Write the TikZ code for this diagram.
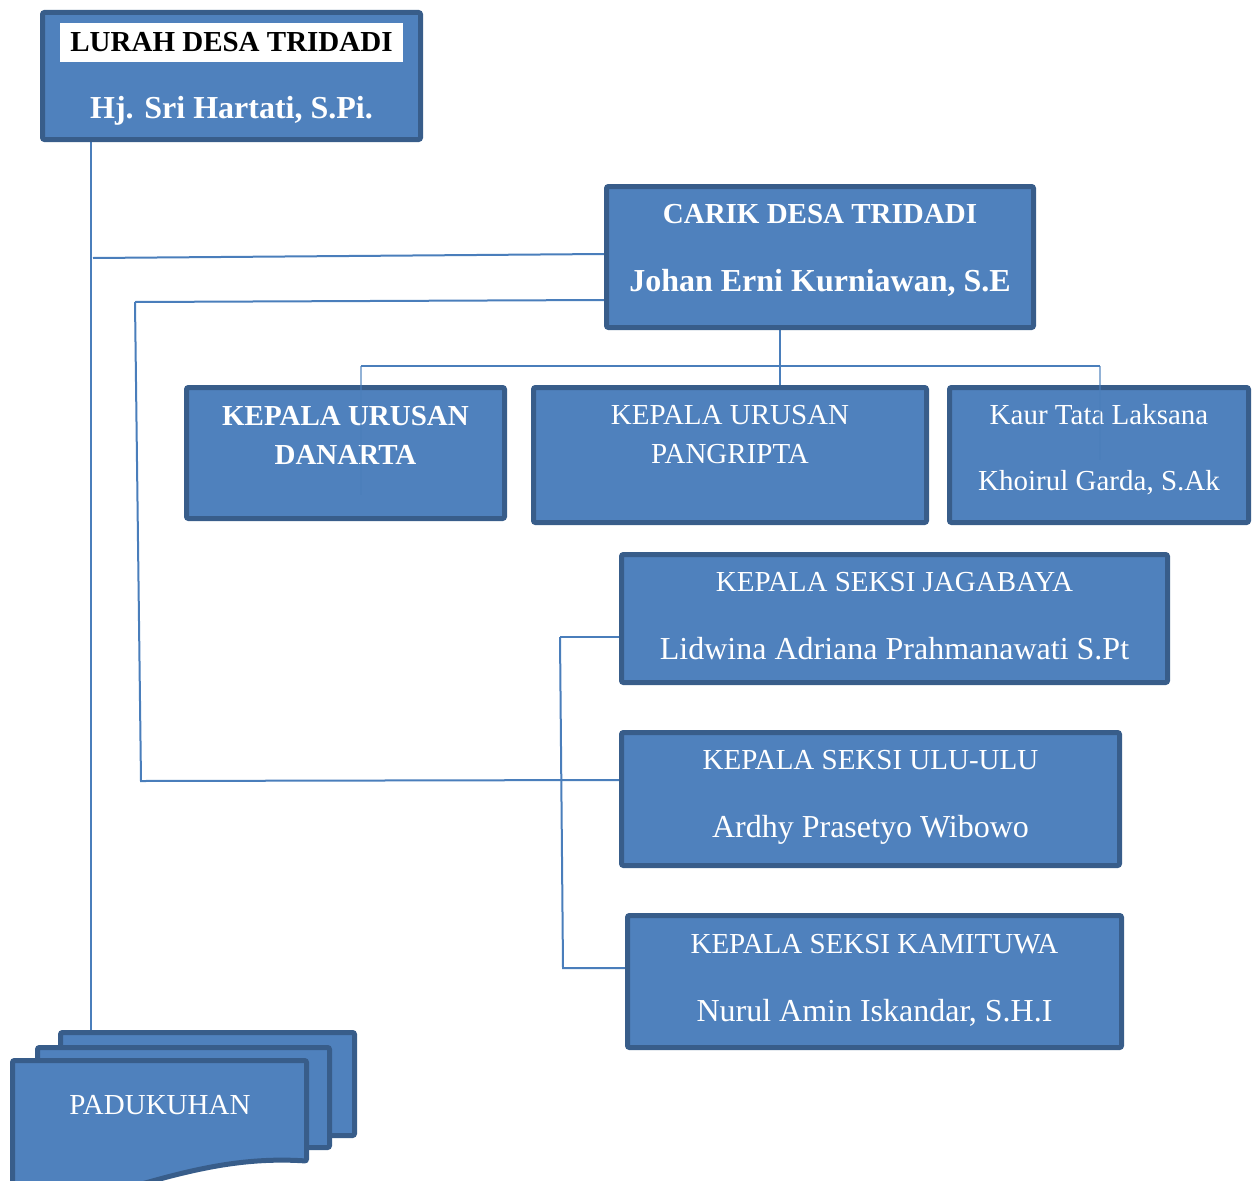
\documentclass[tikz,border=0pt]{standalone}
\usepackage{fontspec}
\setmainfont{Liberation Serif}
\usepackage{xcolor}
\definecolor{boxblue}{RGB}{79,129,189}
\definecolor{edgeblue}{RGB}{56,93,138}
\definecolor{linkblue}{RGB}{74,126,187}

\begin{document}
\begin{tikzpicture}[x=1pt, y=-1pt,
        unit/.style={rectangle, draw=edgeblue, fill=boxblue, line width=5pt, rounded corners=2pt, inner sep=0pt},
        caption/.style={inner sep=0pt, text height=19pt, text depth=0pt, text=white, font=\fontsize{29}{35}\selectfont},
        boldcap/.style={caption, font=\fontsize{29}{35}\selectfont\bfseries},
        person/.style={caption, text height=21pt, font=\fontsize{32}{38}\selectfont},
        boldperson/.style={person, font=\fontsize{32}{38}\selectfont\bfseries},
        line/.style={draw=linkblue, line width=2pt}]

        \clip (0,0) rectangle (1257,1180);

        \coordinate (spine) at (91,0);
        \coordinate (jA) at (93,258);
        \coordinate (jB) at (135,302);
        \coordinate (jC) at (141,781);
        \coordinate (bus) at (780,366);
        \coordinate (busL) at (361,366);
        \coordinate (busR) at (1100,366);
        \coordinate (brT) at (560,637);
        \coordinate (brB) at (563,968);

        % lines behind the boxes
        \path [line] (spine |- 0,142) -- (spine |- 0,1032);
        \path [line] (jA) -- (604,254);
        \path [line] (jB) -- (604,300);
        \path [line] (jB) -- (jC) -- (619,780);
        \path [line] (780,330) -- (bus);
        \path [line] (busL) -- (busR);
        \path [line] (bus) -- (780,386);
        \path [line] (brT) -- (620,637);
        \path [line] (brT) -- (brB) -- (626,968);

        \node [unit, minimum width=378pt, minimum height=127pt] (lurah) at (231.5,76) {};
        \node [boldcap, fill=white, text=black, minimum width=343pt, minimum height=39pt] (lurahA) at (231.5,42.5) {LURAH DESA TRIDADI};
        \node [boldperson] (lurahB) at (231.5,108) {Hj. Sri Hartati, S.Pi.};

        \node [unit, minimum width=427pt, minimum height=141pt] (carik) at (820,257) {};
        \node [boldcap] (carikA) at (820,214) {CARIK DESA TRIDADI};
        \node [boldperson] (carikB) at (820,281) {Johan Erni Kurniawan, S.E};

        \node [unit, minimum width=318pt, minimum height=131pt] (danarta) at (345.5,453) {};
        \node [boldcap] (danartaA) at (345.5,416) {KEPALA URUSAN};
        \node [boldcap] (danartaB) at (345.5,455) {DANARTA};

        \node [unit, minimum width=393pt, minimum height=135pt] (pangripta) at (730,455) {};
        \node [caption] (pangriptaA) at (730,415) {KEPALA URUSAN};
        \node [caption] (pangriptaB) at (730,454) {PANGRIPTA};

        \node [unit, minimum width=299pt, minimum height=135pt] (kaur) at (1099,455) {};
        \node [caption] (kaurA) at (1099,415) {Kaur Tata Laksana};
        \node [caption] (kaurB) at (1099,481) {Khoirul Garda, S.Ak};

        \path [line, opacity=0.6] (busL) -- (361,495);
        \path [line, opacity=0.6] (busR) -- (1100,460);

        \node [unit, minimum width=546pt, minimum height=128pt] (jagabaya) at (894.5,618.5) {};
        \node [caption] (jagabayaA) at (894.5,582) {KEPALA SEKSI JAGABAYA};
        \node [person] (jagabayaB) at (894.5,649) {Lidwina Adriana Prahmanawati S.Pt};

        \node [unit, minimum width=498pt, minimum height=133pt] (ulu) at (870.5,799) {};
        \node [caption] (uluA) at (870.5,760) {KEPALA SEKSI ULU-ULU};
        \node [person] (uluB) at (870.5,827) {Ardhy Prasetyo Wibowo};

        \node [unit, minimum width=494pt, minimum height=132pt] (kamituwa) at (874.5,981.5) {};
        \node [caption] (kamituwaA) at (874.5,944) {KEPALA SEKSI KAMITUWA};
        \node [person] (kamituwaB) at (874.5,1011) {Nurul Amin Iskandar, S.H.I};

        \node [unit, minimum width=294pt, minimum height=103pt] (dukuhC) at (207.5,1084) {};
        \node [unit, minimum width=292pt, minimum height=100pt] (dukuhB) at (183.5,1097.5) {};
        \draw [draw=edgeblue, fill=boxblue, line width=5pt, rounded corners=2pt]
            (12.5,1060.5) -- (306.5,1060.5) -- (306.5,1161)
            .. controls (230,1156) and (170,1176) .. (100,1196) -- (12.5,1196) -- cycle;
        \node [caption] (dukuhA) at (160,1105) {PADUKUHAN};
\end{tikzpicture}
\end{document}
